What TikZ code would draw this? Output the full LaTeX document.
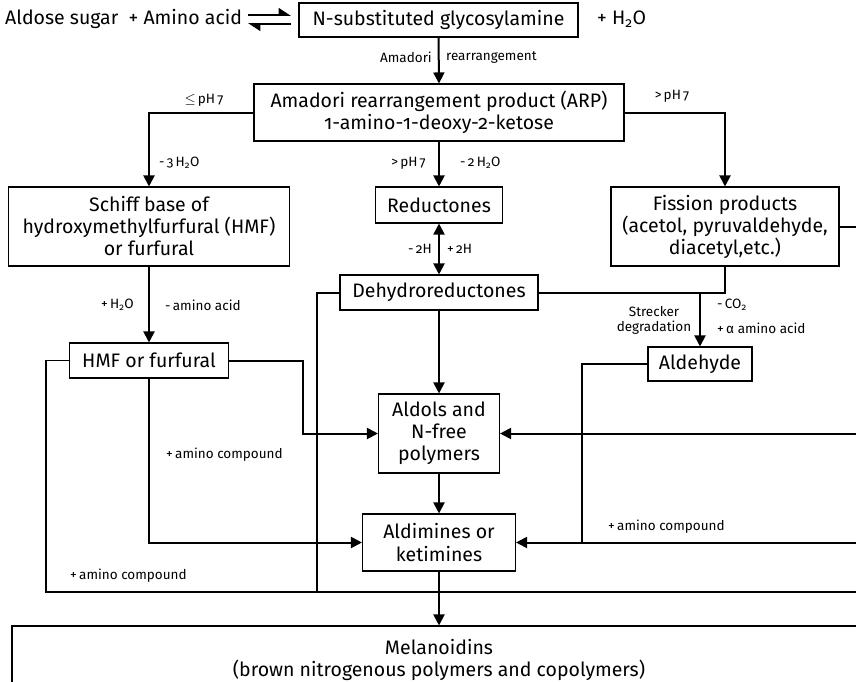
\documentclass[tikz,border=0pt]{standalone}
\usepackage{fontspec}
\setmainfont{Fira Sans}[Numbers=OldStyle]
\usetikzlibrary{arrows.meta,calc}
\newcommand{\mainf}{\fontsize{19.5}{22}\selectfont}
\newcommand{\smallf}{\fontsize{13.5}{15}\selectfont}
\newcommand{\hto}{H\textsubscript{2}O}
\tikzset{
  box/.style={draw, line width=1.1pt, inner sep=0pt, align=center, font=\mainf},
  lab/.style={font=\smallf, inner sep=0pt},
  conn/.style={line width=2pt},
  thinconn/.style={line width=1.4pt},
  tip/.tip={Triangle[length=11pt,width=11pt]},
  arr/.style={conn, -tip},
}
\begin{document}
\begin{tikzpicture}[x=1pt,y=-1pt]
\useasboundingbox (0,0) rectangle (856,681);
\clip (0,0) rectangle (856,681);
% nodes
\node[anchor=west, font=\mainf, inner sep=0pt] (src) at (5,19) {Aldose sugar \ + Amino acid};
\node[box, minimum width=279pt, minimum height=34pt] (gly) at (438.5,20) {N-substituted glycosylamine};
\node[anchor=west, font=\mainf, inner sep=0pt] (wat) at (597,19) {+ \hto};
\node[box, minimum width=370pt, minimum height=57pt] (arp) at (439,112.5) {Amadori rearrangement product (ARP)\\1-amino-1-deoxy-2-ketose};
\node[box, minimum width=281pt, minimum height=79pt] (sch) at (149,226.5) {Schiff base of\\hydroxymethylfurfural (HMF)\\or furfural};
\node[box, minimum width=127pt, minimum height=36pt] (red) at (439,205) {Reductones};
\node[box, minimum width=228pt, minimum height=79pt] (fis) at (725,226.5) {Fission products\\(acetol, pyruvaldehyde,\\diacetyl,etc.)};
\node[box, minimum width=198pt, minimum height=35pt] (deh) at (439,292.5) {Dehydroreductones};
\node[box, minimum width=159pt, minimum height=35pt] (hmf) at (149,360.5) {HMF or furfural};
\node[box, minimum width=104pt, minimum height=34pt] (aldh) at (700,364) {Aldehyde};
\node[box, minimum width=121pt, minimum height=79pt] (aldo) at (439,433.5) {Aldols and\\N-free\\polymers};
\node[box, minimum width=153pt, minimum height=57pt] (aldi) at (439,542.5) {Aldimines or\\ketimines};
\node[box, minimum width=854pt, minimum height=68pt] (mel) at (439,660) {Melanoidins\\(brown nitrogenous polymers and copolymers)};
% helper coordinates
\coordinate (eqa) at (248,15);
\coordinate (eqb) at (291,15);
\coordinate (eqc) at (291,24);
\coordinate (eqd) at (248,24);
\coordinate (e1) at (862,226.5);
\coordinate (e2) at (862,433.5);
\coordinate (e3) at (862,542.5);
\coordinate (e4) at (862,592);
\coordinate (hk) at (303,0);
\coordinate (ak) at (582,0);
\coordinate (lk) at (46,592);
\coordinate (dk) at (317,592);
% equilibrium
\draw[line width=1.8pt, -{Triangle[harpoon,length=11pt,width=14pt]}] (eqa) -- (eqb);
\draw[line width=1.8pt, -{Triangle[harpoon,length=11pt,width=14pt]}] (eqc) -- (eqd);
% connectors
\draw[arr] (gly.south) -- (arp.north);
\draw[arr] (arp.west) -| (sch.north);
\draw[arr] (arp.south) -- (red.north);
\draw[arr] (arp.east) -| (fis.north);
\draw[conn, tip-tip] (red.south) -- (deh.north);
\draw[conn] (fis.east) -- (e1);
\draw[arr] (sch.south) -- (hmf.north);
\draw[conn] (deh.east) -| (fis.south);
\coordinate (sj) at (aldh.north |- deh.east);
\draw[arr] (sj) -- (aldh.north);
\draw[arr] (deh.south) -- (aldo.north);
\draw[arr] (hmf.east) -- (hmf.east -| hk) -- (hk |- aldo.west) -- (aldo.west);
\draw[arr] (e2) -- (aldo.east);
\draw[arr] (aldo.south) -- (aldi.north);
\draw[arr] (hmf.south) |- (aldi.west);
\draw[arr] (e3) -- (aldi.east);
\draw[conn] (aldh.west) -- (aldh.west -| ak) -- (ak |- aldi.east);
\draw[thinconn] (hmf.west) -- (hmf.west -| lk) -- (lk) -- (e4);
\draw[conn] (deh.west) -- (deh.west -| dk) -- (dk) -- (e4);
\draw[arr] (aldi.south) -- (mel.north);
% labels
\node[lab, anchor=east] (l1) at (432,57) {Amadori};
\node[lab, anchor=west] (l2) at (446,57) {rearrangement};
\node[lab] (l3) at (204,100) {$\leq$\,pH\,7};
\node[lab, anchor=west] (l4) at (159,163) {-\,3\,\hto};
\node[lab, anchor=east] (l5) at (426,163) {>\,pH\,7};
\node[lab, anchor=west] (l6) at (460,163) {-\,2\,\hto};
\node[lab] (l7) at (672,96) {>\,pH\,7};
\node[lab, anchor=east] (l8) at (432,249) {-\,2H};
\node[lab, anchor=west] (l9) at (447,249) {+\,2H};
\node[lab, anchor=east] (l10) at (134,305) {+\,\hto};
\node[lab, anchor=west] (l11) at (165,305) {-\,amino acid};
\node[lab, align=center] (l12) at (654,320) {Strecker\\degradation};
\node[lab, anchor=west] (l13) at (717,305) {-\,CO\textsubscript{2}};
\node[lab, anchor=west] (l14) at (717,328) {+\,α amino acid};
\node[lab, anchor=west] (l15) at (166,455) {+\,amino compound};
\node[lab, anchor=west] (l16) at (608,527) {+\,amino compound};
\node[lab, anchor=west] (l17) at (70,576) {+\,amino compound};
\end{tikzpicture}
\end{document}
